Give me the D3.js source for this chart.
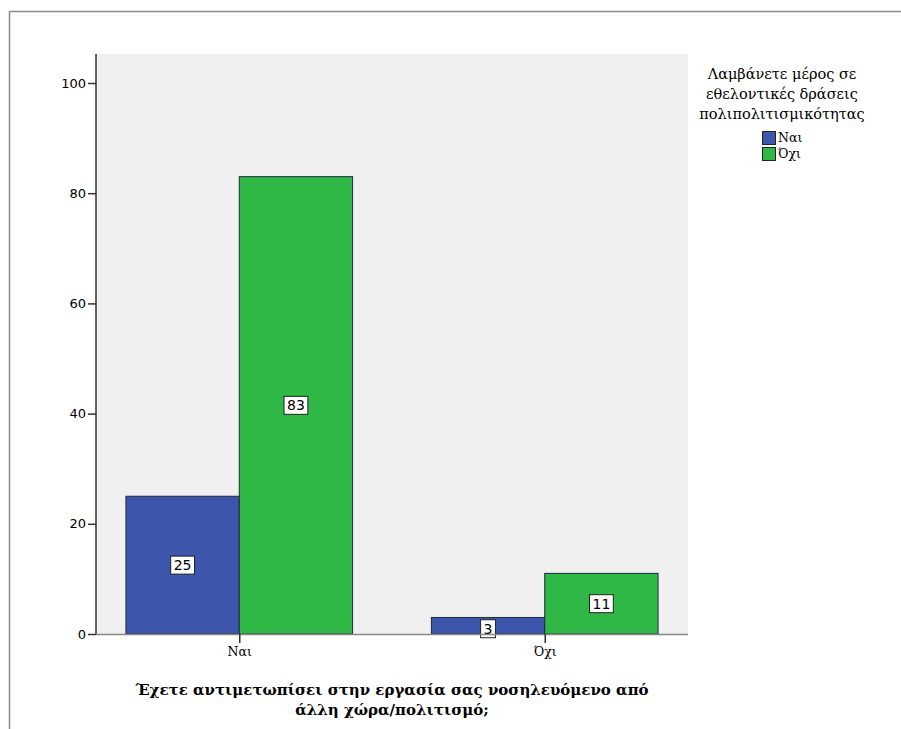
<!DOCTYPE html>
<html><head><meta charset="utf-8">
<script src="https://cdn.jsdelivr.net/npm/d3@7"></script>
<style>body{margin:0;background:#fff}</style>
</head><body>
<script>
const categories = ["Ναι", "Όχι"];
const seriesNames = ["Ναι", "Όχι"];
const valuesNai = [25, 3];
const valuesOxi = [83, 11];
const yTicks = [0, 20, 40, 60, 80, 100];
const colors = ["#3d55aa", "#2fb845"];
const legendTitle = ["Λαμβάνετε μέρος σε", "εθελοντικές δράσεις", "πολιπολιτισμικότητας"];
const axisTitle = ["Έχετε αντιμετωπίσει στην εργασία σας νοσηλευόμενο από", "άλλη χώρα/πολιτισμό;"];

const W = 901, H = 729;
const serif = "DejaVu Serif, serif";
const svg = d3.select("body").append("svg").attr("width", W).attr("height", H);
svg.append("rect").attr("x", 9.5).attr("y", 11.5).attr("width", W + 10).attr("height", H + 10)
  .attr("fill", "#fff").attr("stroke", "#8a8a8a").attr("stroke-width", 1.5);

const pl = 96, pr = 688, pt = 54, pb = 634;
svg.append("rect").attr("x", pl).attr("y", pt).attr("width", pr - pl).attr("height", pb - pt).attr("fill", "#f0f0f0");

const x = d3.scaleBand().domain(categories).range([pl, pr]).paddingInner(0.258).paddingOuter(0.098);
const xs = d3.scaleBand().domain(seriesNames).range([0, x.bandwidth()]);
const y = d3.scaleLinear().domain([0, 100]).range([pb, pb - 551]);

const data = categories.map((c, i) => ({cat: c, vals: [valuesNai[i], valuesOxi[i]]}));

const g = svg.append("g");
data.forEach(d => {
  d.vals.forEach((v, j) => {
    const bx = x(d.cat) + xs(seriesNames[j]);
    g.append("rect").attr("x", bx).attr("y", y(v)).attr("width", xs.bandwidth()).attr("height", y(0) - y(v))
      .attr("fill", colors[j]).attr("stroke", "#1e2a3a").attr("stroke-width", 1);
  });
});
// labels
data.forEach(d => {
  d.vals.forEach((v, j) => {
    const cx = x(d.cat) + xs(seriesNames[j]) + xs.bandwidth() / 2;
    const cy = (y(v) + y(0)) / 2 + (v < 5 ? 3 : 0);
    const t = g.append("text").attr("x", cx).attr("y", cy).attr("text-anchor", "middle").attr("dominant-baseline", "central")
      .attr("font-family", "DejaVu Sans, sans-serif").attr("font-size", 14).attr("fill", "#000").text(v);
    const bb = t.node().getBBox();
    g.insert("rect", () => t.node()).attr("x", bb.x - 3).attr("y", bb.y - 1).attr("width", bb.width + 6).attr("height", bb.height + 2)
      .attr("fill", "#fff").attr("stroke", "#222").attr("stroke-width", 1);
  });
});

// x baseline
svg.append("line").attr("x1", pl).attr("x2", pr).attr("y1", pb + 0.5).attr("y2", pb + 0.5).attr("stroke", "#888").attr("stroke-width", 1.5);
// x axis
const xAxis = svg.append("g").attr("transform", `translate(0,${pb})`)
  .call(d3.axisBottom(d3.scalePoint().domain(categories).range([x(categories[0]) + x.bandwidth() / 2, x(categories[1]) + x.bandwidth() / 2])).tickSize(9).tickPadding(4));
xAxis.select(".domain").remove();
xAxis.selectAll("line").attr("stroke", "#333").attr("stroke-width", 1.5);
xAxis.selectAll("text").attr("font-family", serif).attr("font-size", 12.5).attr("fill", "#000");

// y axis
const yAxis = svg.append("g").attr("transform", `translate(${pl},0)`)
  .call(d3.axisLeft(y).tickValues(yTicks).tickSize(8).tickPadding(2));
yAxis.select(".domain").attr("d", `M0,${pt}V${pb}`).attr("stroke", "#333").attr("stroke-width", 1.5);
yAxis.selectAll("line").attr("stroke", "#333").attr("stroke-width", 1.5);
yAxis.selectAll("text").attr("font-family", "DejaVu Sans, sans-serif").attr("font-size", 13).attr("fill", "#000");

// axis title
svg.append("text").attr("x", (pl + pr) / 2).attr("y", 695).attr("text-anchor", "middle")
  .attr("font-family", serif).attr("font-weight", "bold").attr("font-size", 15)
  .selectAll("tspan").data(axisTitle).join("tspan").attr("x", (pl + pr) / 2).attr("dy", (d, i) => i ? 20 : 0).text(d => d);

// legend
const lx = 782;
svg.append("text").attr("x", lx).attr("y", 79).attr("text-anchor", "middle")
  .attr("font-family", serif).attr("font-size", 14.5).attr("fill", "#000")
  .selectAll("tspan").data(legendTitle).join("tspan").attr("x", lx).attr("dy", (d, i) => i ? 20 : 0).text(d => d);
const lg = svg.append("g");
seriesNames.forEach((s, i) => {
  lg.append("rect").attr("x", 762.5).attr("y", 131.5 + i * 16).attr("width", 13).attr("height", 13)
    .attr("fill", colors[i]).attr("stroke", "#222").attr("stroke-width", 1);
  lg.append("text").attr("x", 778).attr("y", 142 + i * 16).attr("font-family", serif).attr("font-size", 12.5).text(s);
});
</script>
</body></html>
